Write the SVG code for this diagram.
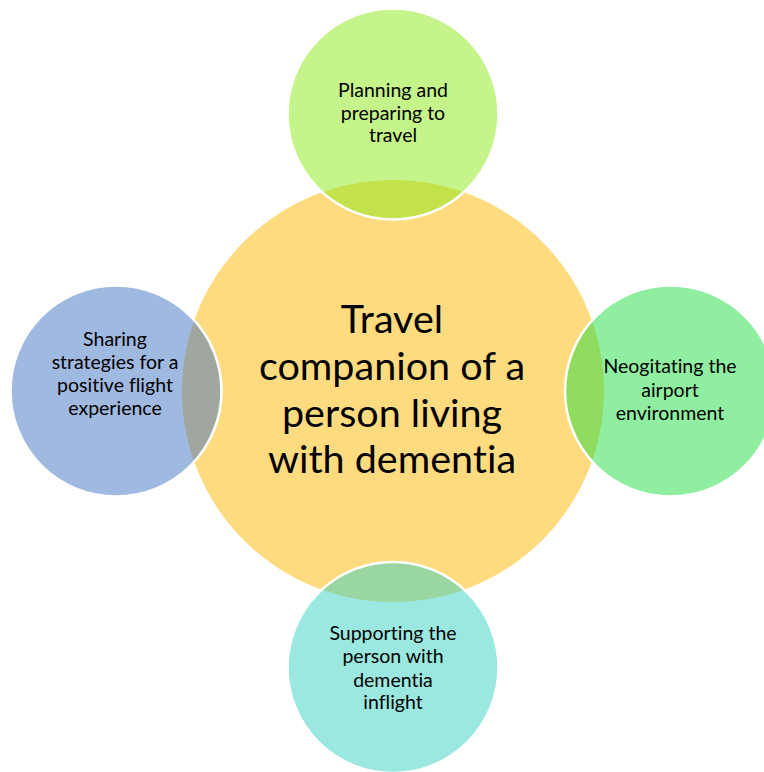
<svg xmlns="http://www.w3.org/2000/svg" width="764" height="772" viewBox="0 0 764 772">
  <style>
    .hub { fill: #FFDB80; }
    .spoke { fill-opacity: 0.5; stroke: #FFFFFF; stroke-width: 2.5; }
    .label { font-family: Lato, "Liberation Sans", Arial, sans-serif; fill: #000000; text-anchor: middle; font-variant-ligatures: none; font-feature-settings: "liga" 0, "dlig" 0; }
    .small { font-size: 19.5px; }
    .big { font-size: 39.5px; }
  </style>
  <rect width="764" height="772" fill="#FFFFFF"/>

  <!-- central theme -->
  <g id="hub">
    <circle class="hub" cx="393" cy="391" r="211"/>
  </g>

  <!-- surrounding themes, translucent so the overlap blends with the hub -->
  <g id="planning">
    <circle class="spoke" cx="393" cy="114" r="105.5" fill="#89E915"/>
    <text class="label small"><tspan x="393" y="97">Planning and</tspan><tspan x="393" y="120">preparing to</tspan><tspan x="393" y="142">travel</tspan></text>
  </g>

  <g id="airport">
    <circle class="spoke" cx="670.5" cy="391" r="105.5" fill="#21DD41"/>
    <text class="label small"><tspan x="670" y="373">Neogitating the</tspan><tspan x="670" y="397">airport</tspan><tspan x="670" y="420">environment</tspan></text>
  </g>

  <g id="inflight">
    <circle class="spoke" cx="393" cy="667.5" r="105.5" fill="#35D1C1"/>
    <text class="label small"><tspan x="393" y="640">Supporting the</tspan><tspan x="393" y="663">person with</tspan><tspan x="393" y="687">dementia</tspan><tspan x="393" y="709">inflight</tspan></text>
  </g>

  <g id="strategies">
    <circle class="spoke" cx="116" cy="391" r="105.5" fill="#4173C1"/>
    <text class="label small"><tspan x="115" y="346">Sharing</tspan><tspan x="115" y="369">strategies for a</tspan><tspan x="115" y="392">positive flight</tspan><tspan x="115" y="415">experience</tspan></text>
  </g>

  <g id="hub-label">
    <text class="label big"><tspan x="392" y="333">Travel</tspan><tspan x="392" y="380">companion of a</tspan><tspan x="392" y="427">person living</tspan><tspan x="392" y="473">with dementia</tspan></text>
  </g>
</svg>
